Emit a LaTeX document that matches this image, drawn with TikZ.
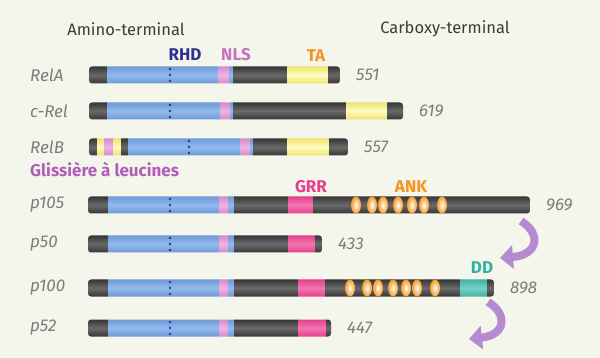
\documentclass[tikz,border=0pt]{standalone}
\usepackage{fontspec}
\setsansfont{Fira Sans}
\usetikzlibrary{arrows.meta,positioning}

\definecolor{paper}{HTML}{F4F5EB}
\definecolor{darkEdge}{HTML}{363636}
\definecolor{darkMid}{HTML}{6A6A6A}
\definecolor{rhdEdge}{HTML}{6E9AD6}
\definecolor{rhdMid}{HTML}{93BAEE}
\definecolor{nlsEdge}{HTML}{D98BCB}
\definecolor{nlsMid}{HTML}{EDB5E3}
\definecolor{taEdge}{HTML}{EEE46C}
\definecolor{taMid}{HTML}{FFFBC2}
\definecolor{grrEdge}{HTML}{E43F8C}
\definecolor{grrMid}{HTML}{F375B0}
\definecolor{ddEdge}{HTML}{3DB3A6}
\definecolor{ddMid}{HTML}{76D1C6}
\definecolor{ankOrange}{HTML}{F59A22}
\definecolor{cleavePurple}{HTML}{B48BD0}
\definecolor{nameGray}{HTML}{7C7C7C}
\definecolor{headGray}{HTML}{3C3C3C}
\definecolor{rhdBlue}{HTML}{2E3192}
\definecolor{nlsPink}{HTML}{C871C2}
\definecolor{taOrange}{HTML}{F7941D}
\definecolor{grrPink}{HTML}{EB3A8E}
\definecolor{ddTeal}{HTML}{2FB2A4}
\definecolor{zipPurple}{HTML}{B05EB8}

\tikzstyle{segDark} = [
  top color=darkEdge,
  bottom color=darkEdge,
  middle color=darkMid,
]
\tikzstyle{segRhd} = [
  top color=rhdEdge,
  bottom color=rhdEdge,
  middle color=rhdMid,
]
\tikzstyle{segNls} = [
  top color=nlsEdge,
  bottom color=nlsEdge,
  middle color=nlsMid,
]
\tikzstyle{segTa} = [
  top color=taEdge,
  bottom color=taEdge,
  middle color=taMid,
]
\tikzstyle{segGrr} = [
  top color=grrEdge,
  bottom color=grrEdge,
  middle color=grrMid,
]
\tikzstyle{segDd} = [
  top color=ddEdge,
  bottom color=ddEdge,
  middle color=ddMid,
]
\tikzstyle{ank} = [
  inner color=white,
  outer color=ankOrange,
]
\tikzstyle{barclip} = [
  rounded corners=3pt,
]
\tikzstyle{protein} = [
  anchor=west,
  inner sep=0pt,
  text=nameGray,
  font=\sffamily\itshape\fontsize{17}{20}\selectfont,
]
\tikzstyle{sizelabel} = [
  inner sep=0pt,
  text=nameGray,
  font=\sffamily\itshape\fontsize{17}{20}\selectfont,
]
\tikzstyle{domlabel} = [
  inner sep=0pt,
  font=\sffamily\bfseries\fontsize{17}{20}\selectfont,
]
\tikzstyle{endlabel} = [
  inner sep=0pt,
  text=headGray,
  font=\sffamily\fontsize{16.5}{20}\selectfont,
]
\tikzstyle{cleave} = [
  draw=cleavePurple,
  line width=8pt,
  -{Triangle[length=13pt,width=23pt]},
]

\begin{document}
\begin{tikzpicture}[
    x=1pt,
    y=-1pt,
  ]
  \useasboundingbox[fill=paper] (0,0) rectangle (600,358);

  % titles
  \node[endlabel] (amino) at (126,29) {Amino-terminal};
  \node[endlabel] (carboxy) at (445,29) {Carboxy-terminal};
  \node[domlabel, text=rhdBlue] (rhd) at (185,55) {RHD};
  \node[domlabel, text=nlsPink] (nls) at (236,55) {NLS};
  \node[domlabel, text=taOrange] (ta) at (316,56) {TA};

  % RelA
  \begin{scope}
    \clip[barclip] (89,66.5) rectangle (340,83.5);
    \foreach \a/\b/\s in {89/107/segDark, 107/218/segRhd, 218/229/segNls,
        229/233/segRhd, 233/287/segDark, 287/328/segTa, 328/340/segDark}
      \shade[\s] (\a,66.5) rectangle (\b,83.5);
  \end{scope}
  \coordinate (relAend) at (340,75);
  \node[protein] (relA) at (30,75) {RelA};
  \node[sizelabel, right=16pt of relAend] (relAlen) {551};

  % c-Rel
  \begin{scope}
    \clip[barclip] (89,102.5) rectangle (403,119.5);
    \foreach \a/\b/\s in {89/107/segDark, 107/220/segRhd, 220/230/segNls,
        230/233/segRhd, 233/346/segDark, 346/387/segTa, 387/403/segDark}
      \shade[\s] (\a,102.5) rectangle (\b,119.5);
  \end{scope}
  \coordinate (cRelend) at (403,111);
  \node[protein] (cRel) at (30,111) {c-Rel};
  \node[sizelabel, right=16pt of cRelend] (cRellen) {619};

  % RelB
  \begin{scope}
    \clip[barclip] (89,138.5) rectangle (348,155.5);
    \foreach \a/\b/\s in {89/97/segDark, 97/104/segTa, 104/113/segNls,
        113/121/segTa, 121/128/segDark, 128/240/segRhd, 240/250/segNls,
        250/253/segRhd, 253/287/segDark, 287/329/segTa, 329/348/segDark}
      \shade[\s] (\a,138.5) rectangle (\b,155.5);
  \end{scope}
  \coordinate (relBend) at (348,147);
  \node[protein] (relB) at (30,147) {RelB};
  \node[sizelabel, right=16pt of relBend] (relBlen) {557};
  \node[domlabel, text=zipPurple, anchor=west] (zipper) at (30,170)
    {Glissière à leucines};

  % p105
  \node[domlabel, text=grrPink] (grr) at (311,187) {GRR};
  \node[domlabel, text=taOrange] (ank) at (411,187) {ANK};
  \begin{scope}
    \clip[barclip] (88,196.5) rectangle (530,213.5);
    \foreach \a/\b/\s in {88/108/segDark, 108/219/segRhd, 219/228/segNls,
        228/234/segRhd, 234/288/segDark, 288/313/segGrr, 313/530/segDark}
      \shade[\s] (\a,196.5) rectangle (\b,213.5);
    \foreach \x in {356,372,383,398,412,424,442}
      \shade[ank] (\x,205) ellipse (5pt and 8.5pt);
  \end{scope}
  \coordinate (p105end) at (530,205);
  \node[protein] (p105) at (30,205) {p105};
  \node[sizelabel, right=16pt of p105end] (p105len) {969};

  % p50
  \begin{scope}
    \clip[barclip] (88,235.5) rectangle (322,252.5);
    \foreach \a/\b/\s in {88/108/segDark, 108/219/segRhd, 219/228/segNls,
        228/234/segRhd, 234/288/segDark, 288/315/segGrr, 315/322/segDark}
      \shade[\s] (\a,235.5) rectangle (\b,252.5);
  \end{scope}
  \coordinate (p50end) at (322,244);
  \node[protein] (p50) at (30,244) {p50};
  \node[sizelabel, right=16pt of p50end] (p50len) {433};

  % p100
  \node[domlabel, text=ddTeal] (dd) at (482,268) {DD};
  \begin{scope}
    \clip[barclip] (88,279.5) rectangle (494,296.5);
    \foreach \a/\b/\s in {88/108/segDark, 108/219/segRhd, 219/228/segNls,
        228/234/segRhd, 234/298/segDark, 298/325/segGrr, 325/460/segDark,
        460/487/segDd, 487/494/segDark}
      \shade[\s] (\a,279.5) rectangle (\b,296.5);
    \foreach \x in {350,367,378,393,406,417,435}
      \shade[ank] (\x,288) ellipse (5pt and 8.5pt);
  \end{scope}
  \coordinate (p100end) at (494,288);
  \node[protein] (p100) at (30,288) {p100};
  \node[sizelabel, right=16pt of p100end] (p100len) {898};

  % p52
  \begin{scope}
    \clip[barclip] (88,319.5) rectangle (331,336.5);
    \foreach \a/\b/\s in {88/108/segDark, 108/219/segRhd, 219/228/segNls,
        228/234/segRhd, 234/298/segDark, 298/326/segGrr, 326/331/segDark}
      \shade[\s] (\a,319.5) rectangle (\b,336.5);
  \end{scope}
  \coordinate (p52end) at (331,328);
  \node[protein] (p52) at (30,328) {p52};
  \node[sizelabel, right=16pt of p52end] (p52len) {447};

  % processing
  \coordinate (cut105) at (521,221);
  \coordinate (to50) at (500,258);
  \coordinate (cut100) at (488,302);
  \coordinate (to52) at (469,339);
  \draw[cleave] (cut105) .. controls (542,234) and (538,255) .. (to50);
  \draw[cleave] (cut100) .. controls (508,314) and (506,335) .. (to52);

  % RHD dots
  \foreach \x/\y in {170/75, 170/111, 189/147, 170/205, 170/244, 170/288,
      170/328}
    \foreach \d in {-6,0,6}
      \fill[rhdBlue] (\x,\y+\d) circle (1.3pt);
\end{tikzpicture}
\end{document}
